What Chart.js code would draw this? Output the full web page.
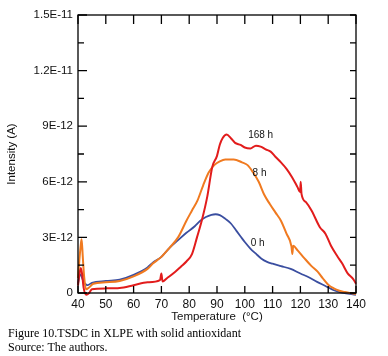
<!DOCTYPE html>
<html>
<head>
<meta charset="utf-8">
<script src="https://cdn.jsdelivr.net/npm/chart.js@4.4.0/dist/chart.umd.min.js"></script>
<style>
    body { margin: 0; background: #fff; }
    #wrap { position: relative; width: 388px; height: 356px; }
    #myChart { position: absolute; left: 0; top: 0; }
    .caption { position: absolute; left: 8px; font: 12px "Liberation Serif", "Times New Roman", serif; color: #000; line-height: 14px; white-space: nowrap; }
</style>
</head>
<body>
<div id="wrap">
    <canvas id="myChart" width="388" height="356"></canvas>
    <div class="caption" style="top:326px">Figure 10.TSDC in XLPE with solid antioxidant</div>
    <div class="caption" style="top:340px">Source: The authors.</div>
</div>
<script>
// values in units of 1E-12 A
const seriesNames = ["168 h", "8 h", "0 h"];
const yTickLabels = ["0", "3E-12", "6E-12", "9E-12", "1.2E-11", "1.5E-11"];

const temp168 = [40, 40.5, 41, 41.5, 42, 43, 44, 45, 50, 55, 60, 65, 69.5, 70, 70.4, 72, 75, 77, 79, 81, 82.8, 84.6, 86.5, 88.3, 90, 91, 92, 93.5, 95, 96.5, 98.5, 100, 102, 104, 105.7, 107.5, 109.3, 111, 113, 115, 117, 119, 119.9, 120.1, 120.4, 122, 124, 127, 129, 131, 133.4, 135, 137, 139, 140];
const cur168 = [0.4, 1.0, 1.35, 1.0, 0.3, -0.1, 0.0, 0.2, 0.25, 0.27, 0.42, 0.58, 0.7, 1.05, 0.62, 0.8, 1.15, 1.42, 1.7, 2.1, 3.0, 3.95, 5.2, 6.8, 7.4, 8.0, 8.35, 8.55, 8.35, 8.1, 7.99, 7.85, 7.8, 7.95, 7.9, 7.75, 7.63, 7.35, 7.05, 6.7, 6.25, 5.7, 5.45, 6.0, 5.35, 4.9, 4.45, 3.55, 3.2, 2.55, 1.96, 1.6, 1.06, 0.75, 0.5];

const temp8 = [40, 40.5, 41, 41.3, 41.7, 42.2, 42.9, 44, 45.5, 50, 55, 60, 65, 67, 70, 73, 76, 79, 81, 83, 85, 87, 89, 91, 93, 96, 99, 101, 103, 105, 107, 109, 111, 113, 115, 116.8, 117.1, 117.4, 119, 121.3, 124, 126.2, 128, 130, 132, 134, 136, 138, 140];
const cur8 = [0.8, 1.8, 2.6, 2.9, 2.0, 0.9, 0.2, 0.3, 0.5, 0.58, 0.65, 0.9, 1.3, 1.6, 1.95, 2.45, 3.0, 3.9, 4.45, 5.0, 5.8, 6.5, 6.9, 7.1, 7.2, 7.2, 7.05, 6.9, 6.5, 6.0, 5.3, 4.8, 4.35, 3.9, 3.2, 2.5, 2.1, 2.55, 2.3, 1.9, 1.45, 1.15, 0.8, 0.45, 0.25, 0.12, 0.05, 0.0, -0.05];

const temp0 = [40, 40.5, 41, 41.5, 42, 43, 43.5, 45, 50, 55, 60, 65, 67, 70, 73, 76, 79, 82, 84, 86, 88, 89.5, 91, 93, 95, 97, 98.5, 100, 102, 104, 106, 108, 110, 113, 116.5, 120, 123, 126, 129, 132, 135, 140];
const cur0 = [0.5, 0.9, 1.0, 0.8, 0.6, 0.45, 0.43, 0.55, 0.65, 0.72, 0.98, 1.38, 1.65, 1.95, 2.45, 2.85, 3.25, 3.6, 3.9, 4.1, 4.22, 4.25, 4.2, 4.0, 3.75, 3.35, 3.05, 2.75, 2.4, 2.12, 1.85, 1.68, 1.58, 1.45, 1.3, 1.05, 0.85, 0.6, 0.38, 0.15, 0.02, -0.1];

const seriesColors = ["rgb(226,28,28)", "rgb(240,122,32)", "rgb(58,78,160)"];

function toPoints(xs, ys) {
    return xs.map((x, i) => ({ x: x, y: ys[i] }));
}

// frame, inward ticks and curve labels
const framePlugin = {
    id: "frame",
    afterDatasetsDraw(chart) {
        const c = chart.ctx;
        const a = chart.chartArea;
        const xs = chart.scales.x;
        const ys = chart.scales.y;
        c.save();
        c.strokeStyle = "#000";
        c.lineWidth = 1.3;
        c.strokeRect(a.left, a.top, a.right - a.left, a.bottom - a.top);
        c.beginPath();
        xs.ticks.forEach(t => {
            const px = xs.getPixelForValue(t.value);
            c.moveTo(px, a.bottom); c.lineTo(px, a.bottom - 7);
            c.moveTo(px, a.top); c.lineTo(px, a.top + 9);
        });
        ys.ticks.forEach((t, i) => {
            const py = ys.getPixelForValue(t.value);
            c.moveTo(a.left, py); c.lineTo(a.left + 9, py);
            c.moveTo(a.right, py); c.lineTo(a.right - 6, py);
            if (i > 0) {
                const mid = ys.getPixelForValue((t.value + ys.ticks[i - 1].value) / 2);
                c.moveTo(a.left, mid); c.lineTo(a.left + 6, mid);
                c.moveTo(a.right, mid); c.lineTo(a.right - 6, mid);
            }
        });
        c.stroke();
        // curve labels, anchored in data units
        const anchors = [[105.7, 8.53], [105.3, 6.48], [104.6, 2.7]];
        c.fillStyle = "#111";
        c.font = "10px 'Liberation Sans', Arial, sans-serif";
        c.textAlign = "center";
        c.textBaseline = "middle";
        seriesNames.forEach((name, i) => {
            c.fillText(name, xs.getPixelForValue(anchors[i][0]), ys.getPixelForValue(anchors[i][1]));
        });
        c.restore();
    }
};

const ctx = document.querySelector("#myChart").getContext("2d");
const myChart = new Chart(ctx, {
    type: "scatter",
    data: {
        datasets: [
            { label: seriesNames[0], data: toPoints(temp168, cur168), borderColor: seriesColors[0], borderWidth: 2 },
            { label: seriesNames[1], data: toPoints(temp8, cur8), borderColor: seriesColors[1], borderWidth: 2 },
            { label: seriesNames[2], data: toPoints(temp0, cur0), borderColor: seriesColors[2], borderWidth: 1.8 }
        ].map(d => Object.assign(d, {
            showLine: true,
            pointRadius: 0,
            cubicInterpolationMode: "monotone",
            clip: 4
        }))
    },
    options: {
        responsive: false,
        animation: false,
        layout: { padding: { left: 0, right: 32, top: 15, bottom: 32 } },
        plugins: {
            legend: { display: false },
            tooltip: { enabled: false }
        },
        scales: {
            x: {
                type: "linear",
                min: 40,
                max: 140,
                ticks: { stepSize: 10, padding: 4, color: "#111", font: { family: "'Liberation Sans', Arial, sans-serif", size: 12 } },
                grid: { display: false, drawTicks: false },
                border: { display: false },
                title: { display: true, text: "Temperature  (°C)", color: "#111", padding: 0, font: { family: "'Liberation Sans', Arial, sans-serif", size: 11.5 } },
                afterFit: s => { s.height = 31; }
            },
            y: {
                min: 0,
                max: 15,
                ticks: {
                    stepSize: 3,
                    padding: 5,
                    color: "#111",
                    font: { family: "'Liberation Sans', Arial, sans-serif", size: 11.5 },
                    callback: (v, i) => yTickLabels[i]
                },
                grid: { display: false, drawTicks: false },
                border: { display: false },
                title: { display: true, text: "Intensity (A)", color: "#111", padding: { top: 5, bottom: 0 }, font: { family: "'Liberation Sans', Arial, sans-serif", size: 11.5 } },
                afterFit: s => { s.width = 78; }
            }
        }
    },
    plugins: [framePlugin]
});
</script>
</body>
</html>
